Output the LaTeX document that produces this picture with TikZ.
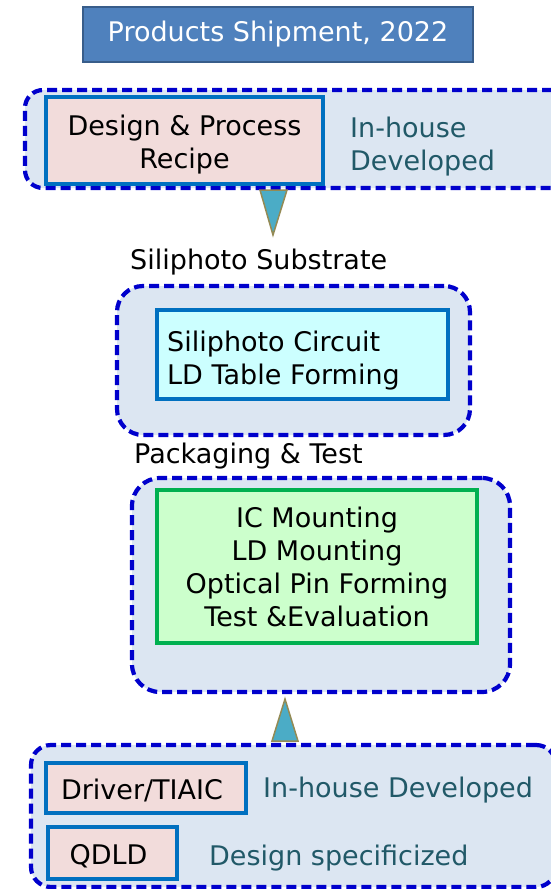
\documentclass[tikz,border=0pt]{standalone}
\usepackage{fontspec}
\setmainfont{DejaVu Sans}
\usepackage{xcolor}
\usetikzlibrary{positioning}
\definecolor{grpblue}{HTML}{0000CC}
\definecolor{grpfill}{HTML}{DCE6F2}
\definecolor{boxblue}{HTML}{0070C0}
\definecolor{pinkfill}{HTML}{F2DCDB}
\definecolor{cyanfill}{HTML}{CCFFFF}
\definecolor{greenfill}{HTML}{CCFFCC}
\definecolor{greenline}{HTML}{00B050}
\definecolor{tealtext}{HTML}{215968}
\definecolor{titlefill}{HTML}{4F81BD}
\definecolor{titleline}{HTML}{385D8A}
\definecolor{trifill}{HTML}{4BACC6}
\definecolor{triline}{HTML}{948A54}

\begin{document}
\begin{tikzpicture}[x=1pt, y=-1pt,
  every node/.style={font=\fontsize{27}{33}\selectfont, inner sep=0pt},
  group/.style={draw=grpblue, fill=grpfill, line width=4.2pt, dash pattern=on 10pt off 5pt, rounded corners=#1},
  pinkbox/.style={draw=boxblue, fill=pinkfill, line width=4pt},
  note/.style={text=tealtext},
  tri/.style={fill=trifill, draw=triline, line width=1.5pt, line join=miter}]
\useasboundingbox (0,0) rectangle (551,889);
\node[draw=titleline, fill=titlefill, line width=1.2pt, text=white, minimum width=390pt, minimum height=55pt] (title) at (278,34.5) {Products Shipment, 2022};
% in-house design
\node[group=18pt, minimum width=545pt, minimum height=98pt] (recipegrp) at (297.5,139) {};
\node[pinkbox, minimum width=277pt, minimum height=87pt] (recipe) at (184.5,140.5) {};
\node[align=center] (recipetext) at (184.5,144.5) {Design \& Process\\Recipe};
\node[note, align=left, anchor=west] (recipenote) at (350,147) {In-house\\Developed};
\filldraw[tri] (260,190) coordinate (a1) -- (287,190) -- (273,235) coordinate (a1tip) -- cycle;
% substrate
\node[anchor=base west] (sublabel) at (130,269) {Siliphoto Substrate};
\node[group=26pt, minimum width=353pt, minimum height=149pt] (subgrp) at (293.5,360.5) {};
\node[draw=boxblue, fill=cyanfill, line width=4pt, minimum width=291pt, minimum height=89pt] (circuit) at (302.5,354.5) {};
\node[align=left, anchor=west] (circuittext) at (167,361) {Siliphoto Circuit\\LD Table Forming};
% packaging
\node[anchor=base west] (packlabel) at (134,463) {Packaging \& Test};
\node[group=28pt, minimum width=378pt, minimum height=214pt] (packgrp) at (321,585) {};
\node[draw=greenline, fill=greenfill, line width=4pt, align=center, minimum width=320pt, minimum height=153pt] (mount) at (317,566.5) {IC Mounting\\LD Mounting\\Optical Pin Forming\\Test \&Evaluation};
\filldraw[tri] (272,741) coordinate (a2) -- (298,741) -- (285,699) coordinate (a2tip) -- cycle;
% parts
\node[group=20pt, minimum width=525pt, minimum height=142pt] (partgrp) at (293.5,816) {};
\node[pinkbox, minimum width=200pt, minimum height=50pt] (driver) at (146,788) {};
\node[anchor=base] (drivertext) at (142,799) {Driver/TIAIC};
\node[note, anchor=base west] (drivernote) at (263,797) {In-house Developed};
\node[pinkbox, minimum width=129pt, minimum height=52pt] (qdld) at (112.5,853) {};
\node[anchor=base] (qdldtext) at (108.5,864) {QDLD};
\node[note, anchor=base west] (qdldnote) at (209,865) {Design specificized};
\end{tikzpicture}
\end{document}
